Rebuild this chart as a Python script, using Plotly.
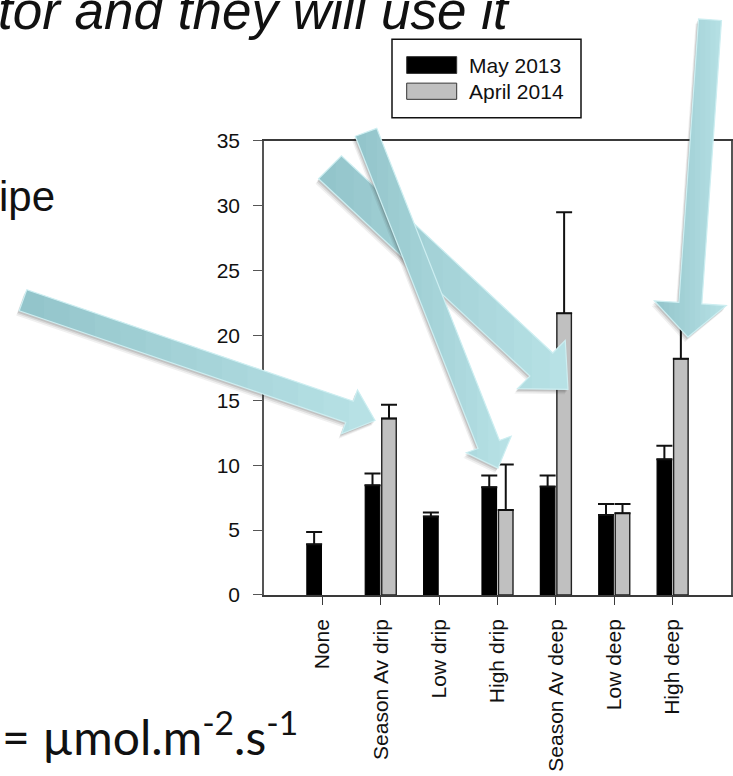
import plotly.graph_objects as go

# ---- data -------------------------------------------------------------
categories = ["None", "Season Av drip", "Low drip", "High drip",
              "Season Av deep", "Low deep", "High deep"]
series_names = ["May 2013", "April 2014"]
may_2013 = [3.9, 8.45, 6.05, 8.3, 8.35, 6.15, 10.45]
may_2013_err = [0.95, 0.9, 0.3, 0.9, 0.85, 0.85, 1.05]
april_2014 = [None, 13.6, None, 6.55, 21.7, 6.3, 18.2]
april_2014_err = [None, 1.05, None, 3.5, 7.8, 0.7, 3.0]
y_ticks = [0, 5, 10, 15, 20, 25, 30, 35]

W, H = 733, 776
FONT = "Liberation Sans, Arial, Helvetica, sans-serif"


def pp(x, y):
    """pixel position -> paper coordinates"""
    return x / W, 1 - y / H


# ---- bars -------------------------------------------------------------
fig = go.Figure()
fig.add_trace(go.Bar(
    x=categories, y=may_2013, name=series_names[0],
    marker=dict(color="#000000", line=dict(color="#000000", width=1.2)),
    error_y=dict(type="data", array=may_2013_err,
                 arrayminus=[0] * len(may_2013_err), symmetric=False,
                 color="#111111", thickness=2, width=8),
    showlegend=False,
))
fig.add_trace(go.Bar(
    x=categories, y=april_2014, name=series_names[1],
    marker=dict(color="#c0c0c0", line=dict(color="#222222", width=1.4)),
    error_y=dict(type="data", array=april_2014_err,
                 arrayminus=[0 if v is not None else None for v in april_2014_err],
                 symmetric=False, color="#111111", thickness=2, width=8),
    showlegend=False,
))

x0, x1 = pp(264, 0)[0], pp(731, 0)[0]
yb, yt = pp(0, 600.7)[1], pp(0, 132.7)[1]

fig.update_layout(
    width=W, height=H, autosize=False,
    margin=dict(l=0, r=0, t=0, b=0),
    paper_bgcolor="white", plot_bgcolor="white",
    barmode="group", bargap=0.435, bargroupgap=0.12,
    font=dict(family=FONT, color="#111111"),
    xaxis=dict(
        domain=[x0, x1], range=[-1, 7], type="category",
        categoryorder="array", categoryarray=categories,
        showline=True, linecolor="#3a3a3a", linewidth=1.6, mirror=True,
        ticks="outside", ticklen=8, tickwidth=1.4, tickcolor="#3a3a3a",
        tickangle=-90, tickfont=dict(size=21, color="#111111", family=FONT),
        ticklabelstandoff=6, showgrid=False, zeroline=False,
    ),
    yaxis=dict(
        domain=[yb, yt], range=[0, 35], tickvals=y_ticks,
        showline=True, linecolor="#555555", linewidth=1.5, mirror=True,
        ticks="outside", ticklen=9, tickwidth=1.4, tickcolor="#555555",
        tickfont=dict(size=21, color="#111111", family=FONT),
        ticklabelstandoff=9, showgrid=False, zeroline=False,
    ),
)

shapes = []
annotations = []

# ---- legend box -------------------------------------------------------
lx0, ly0 = pp(392, 28)
lx1, ly1 = pp(581, 109)
shapes.append(dict(type="rect", xref="paper", yref="paper",
                   x0=lx0, y0=ly0, x1=lx1, y1=ly1,
                   line=dict(color="#111111", width=1.5), fillcolor="white",
                   layer="above"))
legend_rows = [(series_names[0], "#000000", 46, 63.3),
               (series_names[1], "#c0c0c0", 73.3, 90)]
for name, col, ya, yb2 in legend_rows:
    sx0, sy0 = pp(406.7, ya)
    sx1, sy1 = pp(456.7, yb2)
    shapes.append(dict(type="rect", xref="paper", yref="paper",
                       x0=sx0, y0=sy0, x1=sx1, y1=sy1,
                       line=dict(color="#333333", width=1), fillcolor=col,
                       layer="above"))
    tx, ty = pp(467, (ya + yb2) / 2)
    annotations.append(dict(text=name, xref="paper", yref="paper", x=tx, y=ty,
                            xanchor="left", yanchor="middle", showarrow=False,
                            font=dict(size=21, color="#111111", family=FONT)))


# ---- callout arrows ---------------------------------------------------
def arrow_polygon(tail, tip, w, hw, hl):
    dx, dy = tip[0] - tail[0], tip[1] - tail[1]
    L = (dx * dx + dy * dy) ** 0.5
    ux, uy = dx / L, dy / L
    nx, ny = -uy, ux
    bx, by = tip[0] - hl * ux, tip[1] - hl * uy
    return [
        (tail[0] + nx * w / 2, tail[1] + ny * w / 2),
        (bx + nx * w / 2, by + ny * w / 2),
        (bx + nx * hw / 2, by + ny * hw / 2),
        tip,
        (bx - nx * hw / 2, by - ny * hw / 2),
        (bx - nx * w / 2, by - ny * w / 2),
        (tail[0] - nx * w / 2, tail[1] - ny * w / 2),
    ]


def clip_slab(poly, xa, xb):
    def clip(points, inside, inter):
        out = []
        n = len(points)
        for i in range(n):
            cur, prev = points[i], points[i - 1]
            if inside(cur):
                if not inside(prev):
                    out.append(inter(prev, cur))
                out.append(cur)
            elif inside(prev):
                out.append(inter(prev, cur))
        return out

    def at_x(xv):
        def f(p, q):
            t = (xv - p[0]) / (q[0] - p[0])
            return (xv, p[1] + t * (q[1] - p[1]))
        return f

    pts = clip(poly, lambda p: p[0] >= xa, at_x(xa))
    if not pts:
        return []
    return clip(pts, lambda p: p[0] <= xb, at_x(xb))


def to_path(points):
    segs = []
    for i, (x, y) in enumerate(points):
        px, py = pp(x, y)
        segs.append(("M" if i == 0 else "L") + f"{px:.5f},{py:.5f}")
    return " ".join(segs) + " Z"


def add_arrow(tail, tip, w, hw, hl):
    poly = arrow_polygon(tail, tip, w, hw, hl)
    # soft drop shadow
    for off, alpha in ((5, 0.07), (3.5, 0.10), (2, 0.14)):
        sh = [(x - off * 0.6, y + off) for x, y in poly]
        shapes.append(dict(type="path", xref="paper", yref="paper",
                           path=to_path(sh), fillcolor=f"rgba(40,40,40,{alpha})",
                           line=dict(width=0), layer="above"))
    # horizontal colour gradient built from vertical slabs
    xs = [p[0] for p in poly]
    xmin, xmax = min(xs), max(xs)
    n = 14
    c0 = (146, 196, 202)
    c1 = (184, 226, 230)
    for k in range(n):
        xa = xmin + (xmax - xmin) * k / n - 0.6
        xb = xmin + (xmax - xmin) * (k + 1) / n + 0.6
        piece = clip_slab(poly, xa, xb)
        if len(piece) < 3:
            continue
        t = (k + 0.5) / n
        col = tuple(round(c0[i] + (c1[i] - c0[i]) * t) for i in range(3))
        shapes.append(dict(type="path", xref="paper", yref="paper",
                           path=to_path(piece), fillcolor=f"rgb{col}",
                           line=dict(width=0), layer="above"))
    shapes.append(dict(type="path", xref="paper", yref="paper",
                       path=to_path(poly), fillcolor="rgba(0,0,0,0)",
                       line=dict(color="#cdeef1", width=1.2), layer="above"))


add_arrow((23, 297), (375, 421), 23, 48, 27)      # to Season Av drip
add_arrow((330, 160), (568, 389), 33, 69, 37)     # to Season Av deep
add_arrow((366, 124), (498, 470), 23, 48, 26)     # to High drip
add_arrow((710, 8), (688, 335), 23, 72, 35)       # to High deep

# ---- slide text -------------------------------------------------------
tx, ty = pp(-4, -1.5)
annotations.append(dict(text="<i>tor and they will use it</i>", xref="paper",
                        yref="paper", x=tx, y=ty, xanchor="left",
                        yanchor="middle", showarrow=False,
                        font=dict(size=53, color="#111111", family=FONT)))
tx, ty = pp(-3, 190)
annotations.append(dict(text="ipe", xref="paper", yref="paper", x=tx, y=ty,
                        xanchor="left", yanchor="middle", showarrow=False,
                        font=dict(size=42, color="#111111", family=FONT)))
tx, ty = pp(0, 744)
annotations.append(dict(text="= µmol.m<sup>-2</sup>.s<sup>-1</sup>",
                        xref="paper", yref="paper", x=tx, y=ty,
                        xanchor="left", yanchor="middle", showarrow=False,
                        font=dict(size=48, color="#111111",
                                  family="Lato, Open Sans, sans-serif")))

fig.update_layout(shapes=shapes, annotations=annotations)
fig.write_html("out.html")
